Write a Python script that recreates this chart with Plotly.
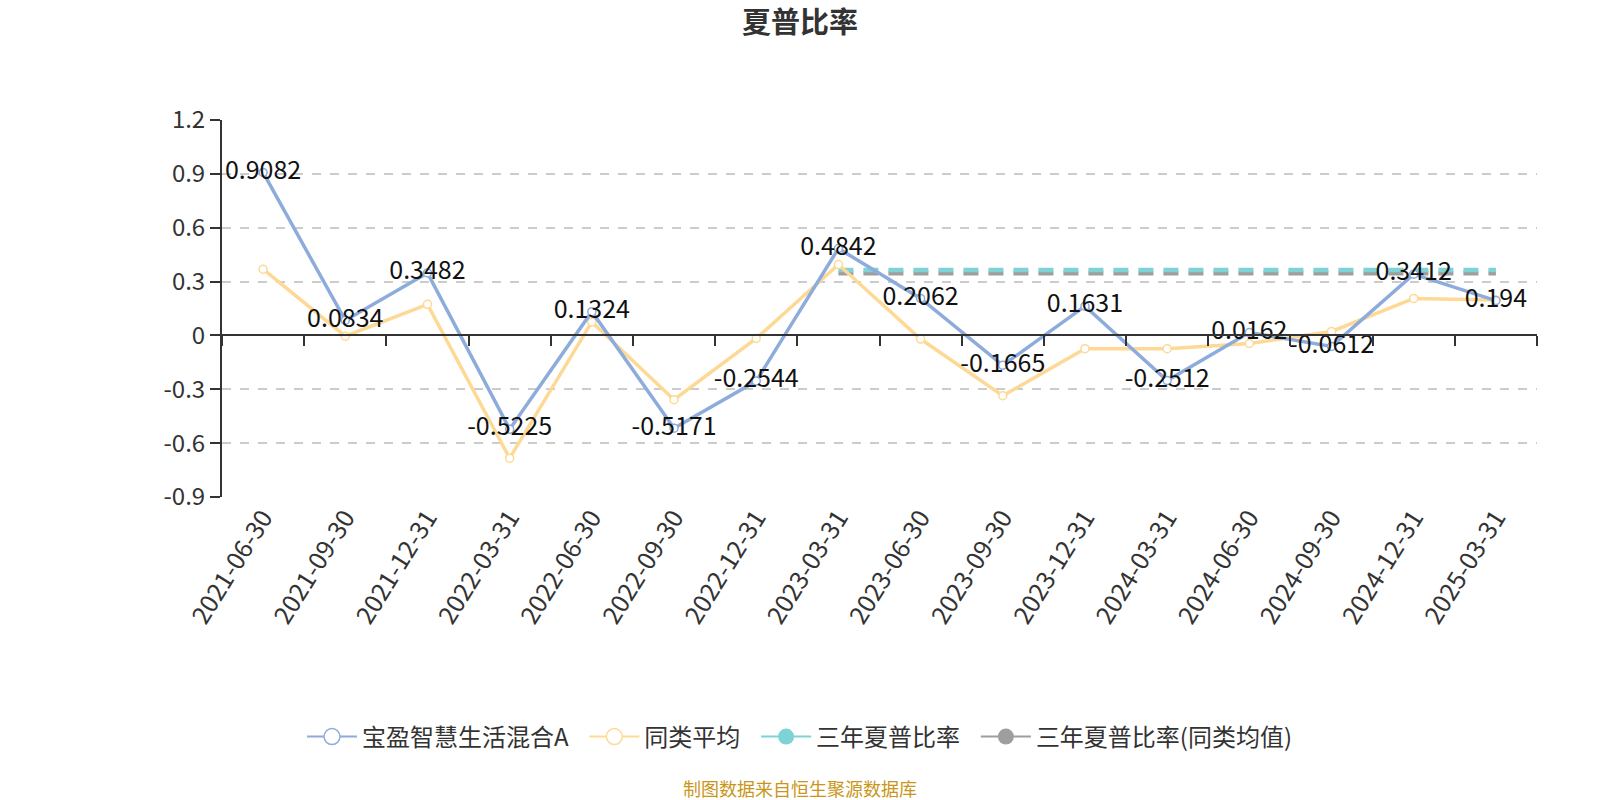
import plotly.graph_objects as go

categories = ["2021-06-30", "2021-09-30", "2021-12-31", "2022-03-31", "2022-06-30",
              "2022-09-30", "2022-12-31", "2023-03-31", "2023-06-30", "2023-09-30",
              "2023-12-31", "2024-03-31", "2024-06-30", "2024-09-30", "2024-12-31",
              "2025-03-31"]
fund_values = [0.9082, 0.0834, 0.3482, -0.5225, 0.1324, -0.5171, -0.2544, 0.4842,
               0.2062, -0.1665, 0.1631, -0.2512, 0.0162, -0.0612, 0.3412, 0.194]
fund_labels = ["0.9082", "0.0834", "0.3482", "-0.5225", "0.1324", "-0.5171", "-0.2544",
               "0.4842", "0.2062", "-0.1665", "0.1631", "-0.2512", "0.0162", "-0.0612",
               "0.3412", "0.194"]
peer_values = [0.369, -0.004, 0.173, -0.684, 0.075, -0.358, -0.017, 0.395,
               -0.020, -0.336, -0.074, -0.074, -0.045, 0.022, 0.206, 0.197]
three_year_start = "2023-03-31"
three_year_sharpe = 0.364
three_year_peer = 0.347
y_tickvals = [1.2, 0.9, 0.6, 0.3, 0, -0.3, -0.6, -0.9]
y_ticktext = ["1.2", "0.9", "0.6", "0.3", "0", "-0.3", "-0.6", "-0.9"]

series_names = ["宝盈智慧生活混合A", "同类平均", "三年夏普比率", "三年夏普比率(同类均值)"]
BLUE = "#8dacdb"
YELLOW = "#fdd995"
TEAL = "#7fd3d6"
GRAY = "#9e9e9e"
FONT = "Noto Sans CJK SC"

ML, MR, MT, MB = 222, 63, 120, 303
PW = 1600 - ML - MR
PH = 800 - MT - MB

start_idx = categories.index(three_year_start)
ty_x = categories[start_idx:]

fig = go.Figure()

# Three-year dashed lines
fig.add_trace(go.Scatter(x=ty_x, y=[three_year_peer] * len(ty_x), mode="lines",
                         line=dict(color=GRAY, width=4.5, dash="15px,10px"),
                         showlegend=False, hoverinfo="skip"))
fig.add_trace(go.Scatter(x=ty_x, y=[three_year_sharpe] * len(ty_x), mode="lines",
                         line=dict(color=TEAL, width=4.5, dash="15px,10px"),
                         showlegend=False, hoverinfo="skip"))

# Peer average
fig.add_trace(go.Scatter(x=categories, y=peer_values, mode="lines+markers",
                         line=dict(color=YELLOW, width=3.5),
                         marker=dict(symbol="circle", size=8, color="white",
                                     line=dict(color=YELLOW, width=1.5)),
                         showlegend=False))
# Fund
fig.add_trace(go.Scatter(x=categories, y=fund_values, mode="lines+markers",
                         line=dict(color=BLUE, width=3.5),
                         marker=dict(symbol="circle", size=8, color="white",
                                     line=dict(color=BLUE, width=1.5)),
                         showlegend=False))
# Labels
fig.add_trace(go.Scatter(x=categories, y=fund_values, mode="text", text=fund_labels,
                         textposition="middle center", cliponaxis=False,
                         textfont=dict(family=FONT, size=25, color="#111111"),
                         showlegend=False, hoverinfo="skip"))

# Legend entries (trailing no-break spaces widen the gap between entries)
legend_specs = [
    (series_names[0] + "\u00a0\u00a0", BLUE, "white", 1.5),
    (series_names[1] + "\u00a0\u00a0", YELLOW, "white", 1.5),
    (series_names[2] + "\u00a0\u00a0", TEAL, TEAL, 0),
    (series_names[3], GRAY, GRAY, 0),
]
for name, col, fill, lw in legend_specs:
    fig.add_trace(go.Scatter(x=[None], y=[None], mode="lines+markers", name=name,
                             line=dict(color=col, width=2),
                             marker=dict(symbol="circle", size=18, color=fill,
                                         line=dict(color=col, width=lw))))

# invisible trace for zero-line tick axis
fig.add_trace(go.Scatter(x=categories, y=[None] * len(categories), xaxis="x2",
                         mode="lines", showlegend=False, hoverinfo="skip"))

fig.update_layout(
    width=1600, height=800, autosize=False,
    paper_bgcolor="white", plot_bgcolor="white",
    margin=dict(l=ML, r=MR, t=MT, b=MB, autoexpand=False),
    font=dict(family=FONT, color="#333"),
    title=dict(text="<b>夏普比率</b>", x=0.5, xref="container", xanchor="center",
               y=1 - 22.5 / 800, yref="container", yanchor="middle",
               font=dict(family=FONT, size=29, color="#333")),
    xaxis=dict(type="category", categoryorder="array", categoryarray=categories,
               range=[-0.5, len(categories) - 0.5], automargin=False,
               showline=False, showgrid=False, zeroline=False, ticks="",
               tickangle=-58, tickfont=dict(family=FONT, size=25, color="#333")),
    xaxis2=dict(type="category", categoryorder="array", categoryarray=categories,
                range=[-0.5, len(categories) - 0.5], overlaying="x", anchor="free",
                position=0.9 / 2.1, showline=True, linecolor="#333", linewidth=2,
                ticks="outside", tickson="boundaries", ticklen=10, tickcolor="#333",
                tickwidth=2, showticklabels=False, showgrid=False, zeroline=False,
                automargin=False),
    yaxis=dict(range=[-0.9, 1.2], tickvals=y_tickvals, ticktext=y_ticktext,
               showline=True, linecolor="#333", linewidth=2, ticks="outside",
               ticklen=10, tickcolor="#333", tickwidth=2, automargin=False,
               showgrid=True, gridcolor="#cccccc", griddash="dash", gridwidth=1.5,
               zeroline=False, tickfont=dict(family=FONT, size=24, color="#333")),
    legend=dict(orientation="h", x=(800 - ML) / PW, xref="paper", xanchor="center",
                y=-(737 - (MT + PH)) / PH, yanchor="middle",
                font=dict(family=FONT, size=24, color="#333"),
                itemsizing="trace", itemwidth=50, traceorder="normal"),
    annotations=[dict(text="制图数据来自恒生聚源数据库", x=(800 - ML) / PW, xref="paper",
                      xanchor="center", y=-(788 - (MT + PH)) / PH, yref="paper",
                      yanchor="middle", showarrow=False,
                      font=dict(family=FONT, size=18, color="#c9961a"))],
)

fig.write_html("out.html", config={"displayModeBar": False},
               post_script="document.body.style.margin='0';document.body.style.padding='0';")
